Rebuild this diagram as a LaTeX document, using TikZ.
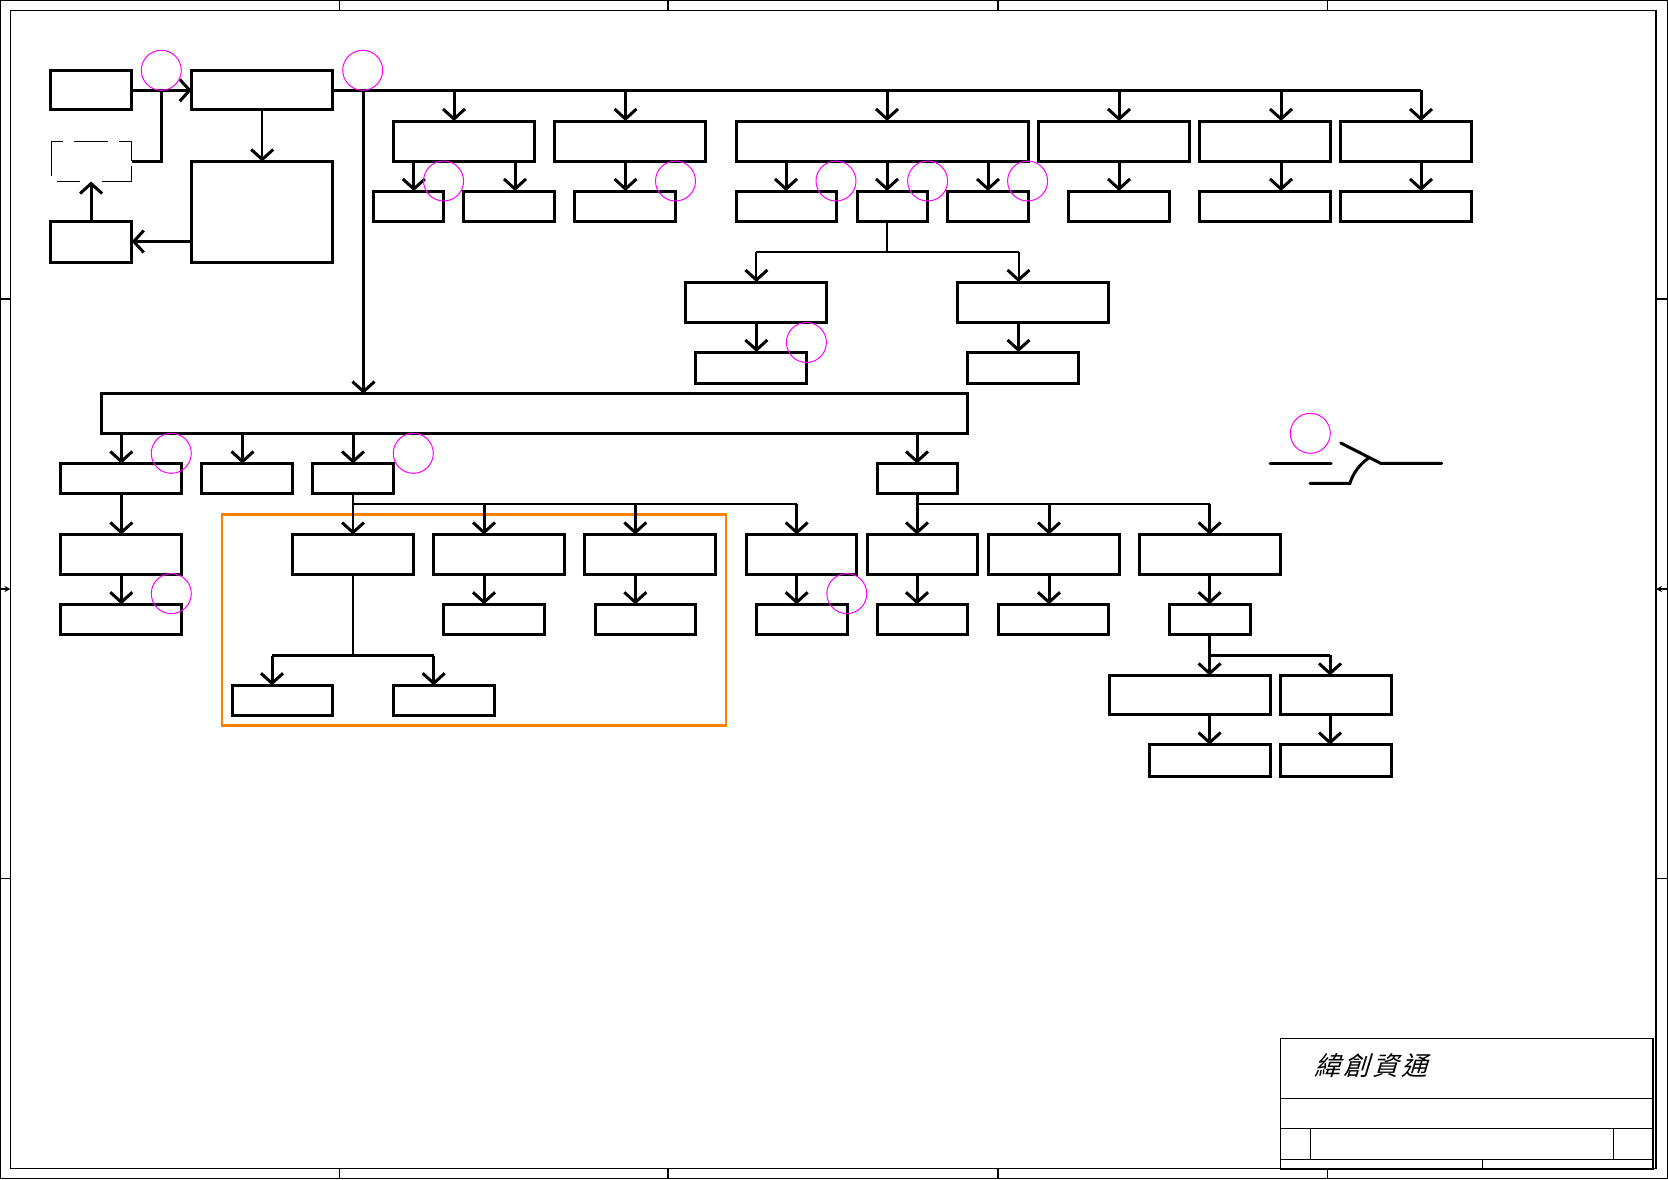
\documentclass[tikz,border=0pt]{standalone}
\usepackage{fontspec}
\newfontfamily\cjk[FakeSlant=0.3,LetterSpace=12]{Noto Sans CJK TC}
\usetikzlibrary{arrows.meta}
\definecolor{bubcol}{RGB}{255,0,255}
\definecolor{boxorange}{RGB}{255,128,0}
\tikzset{
  blk/.style 2 args={draw,line width=3pt,inner sep=0pt,outer sep=0pt,minimum width=#1pt,minimum height=#2pt},
  ghost/.style 2 args={inner sep=0pt,outer sep=0pt,minimum width=#1pt,minimum height=#2pt},
  bub/.style={draw=bubcol,circle,line width=1pt,inner sep=0pt,minimum size=40pt},
  wire/.style={line width=3pt},
  thn/.style={line width=2pt},
  frm/.style={line width=1.3pt},
}
\begin{document}
\begin{tikzpicture}[x=1pt,y=-1pt,>={Straight Barb[length=10pt,width=22pt,line width=3pt]}]
  \useasboundingbox (0,0) rectangle (1668,1179);
  % sheet frame
  \draw[frm] (0.6,0.6) rectangle (1667.4,1178.4);
  \draw[frm] (10.5,10.5) rectangle (1656,1168.5);
  \draw[frm] (339.7,0) -- (339.7,10.5);
  \draw[frm] (668,0) -- (668,10.5);
  \draw[frm] (998,0) -- (998,10.5);
  \draw[frm] (1327.7,0) -- (1327.7,10.5);
  \draw[frm] (339.7,1168.5) -- (339.7,1179);
  \draw[frm] (668,1168.5) -- (668,1179);
  \draw[frm] (998,1168.5) -- (998,1179);
  \draw[frm] (1327.7,1168.5) -- (1327.7,1179);
  \draw[frm] (0,299) -- (10.5,299);
  \draw[frm] (0,878.5) -- (10.5,878.5);
  \draw[frm] (1656,299) -- (1668,299);
  \draw[frm] (1656,878.5) -- (1668,878.5);
  \draw[frm,-{Stealth[length=6pt,width=6pt]}] (0,589) -- (10.5,589);
  \draw[frm,-{Stealth[length=6pt,width=6pt]}] (1668,589) -- (1656,589);
  % title block
  \draw[frm,fill=white] (1280.3,1038.7) rectangle (1653,1169);
  \draw[frm] (1280.3,1098.7) -- (1653,1098.7);
  \draw[frm] (1280.3,1128.3) -- (1653,1128.3);
  \draw[frm] (1280.3,1159.3) -- (1653,1159.3);
  \draw[frm] (1310.7,1128.3) -- (1310.7,1159.3);
  \draw[frm] (1613.3,1128.3) -- (1613.3,1159.3);
  \draw[frm] (1482.3,1159.3) -- (1482.3,1169);
  \draw[line width=2pt] (1280.3,1169) -- (1653,1169);
  \node[anchor=west,inner sep=0pt] (wistron) at (1314,1066) {\cjk\fontsize{26pt}{26pt}\selectfont 緯創資通};
  % top left group
  \node[blk={81.2}{39.3}] (psu) at (91.1,90.3) {};
  \node[blk={141}{39.3}] (chg) at (262.2,90.3) {};
  \node[ghost={80}{40}] (adp) at (91.5,161.5) {};
  \node[blk={81.2}{41}] (bat) at (91.1,241.5) {};
  \node[blk={141}{100.5}] (pack) at (262.2,211.75) {};
  % first rows
  \node[blk={140.4}{40.5}] (ra) at (463.8,141.25) {};
  \node[blk={151}{40.5}] (rb) at (629.5,141.25) {};
  \node[blk={292}{40.5}] (rc) at (882,141.25) {};
  \node[blk={151}{40.5}] (rd) at (1113.5,141.25) {};
  \node[blk={131}{40.5}] (re) at (1264.8,141.25) {};
  \node[blk={131}{40.5}] (rf) at (1405.5,141.25) {};
  \node[blk={70}{30}] (sa) at (408.5,206) {};
  \node[blk={91}{30}] (sb) at (508.5,206) {};
  \node[blk={101}{30}] (sc) at (625,206) {};
  \node[blk={100}{30}] (sd) at (786,206) {};
  \node[blk={70}{30}] (se) at (892.5,206) {};
  \node[blk={81}{30}] (sf) at (987.5,206) {};
  \node[blk={101}{30}] (sg) at (1118.5,206) {};
  \node[blk={131}{30}] (sh) at (1264.5,206) {};
  \node[blk={131}{30}] (si) at (1405.5,206) {};
  \node[blk={141.6}{40.4}] (ta) at (755.8,302.2) {};
  \node[blk={151}{40.4}] (tb) at (1033,302.2) {};
  \node[blk={110.7}{31}] (ua) at (751,367.5) {};
  \node[blk={110.7}{31}] (ub) at (1023.3,367.5) {};
  % long bar and what hangs below
  \node[blk={866}{39.4}] (bar) at (534,413.3) {};
  \node[blk={120.4}{30}] (fa) at (120.8,478.5) {};
  \node[blk={90.5}{30}] (fb) at (247.2,478.5) {};
  \node[blk={81}{30}] (fc) at (352.5,478.5) {};
  \node[blk={80}{30}] (fd) at (917.5,478.5) {};
  \node[blk={120.4}{40}] (ga) at (120.8,554.5) {};
  \node[blk={121.5}{40}] (gb) at (353.2,554.5) {};
  \node[blk={131.4}{40}] (gc) at (499,554.5) {};
  \node[blk={131.7}{40}] (gd) at (650,554.5) {};
  \node[blk={110}{40}] (ge) at (801.3,554.5) {};
  \node[blk={110.6}{40}] (gf) at (922.3,554.5) {};
  \node[blk={131}{40}] (gg) at (1053.5,554.5) {};
  \node[blk={141}{40}] (gh) at (1209.5,554.5) {};
  \node[blk={120.4}{30.4}] (ha) at (120.8,619.5) {};
  \node[blk={100.7}{30.4}] (hc) at (493.7,619.5) {};
  \node[blk={100.4}{30.4}] (hd) at (645.5,619.5) {};
  \node[blk={91.4}{30.4}] (he) at (802,619.5) {};
  \node[blk={89.4}{30.4}] (hf) at (922.3,619.5) {};
  \node[blk={109.5}{30.4}] (hg) at (1053.7,619.5) {};
  \node[blk={81}{30.4}] (hh) at (1209.5,619.5) {};
  \node[blk={100}{30.4}] (ja) at (282,700.5) {};
  \node[blk={101.4}{30.4}] (jb) at (444,700.5) {};
  \node[blk={161}{39.5}] (ia) at (1189.8,695.2) {};
  \node[blk={111.5}{39.5}] (ib) at (1335.8,695.2) {};
  \node[blk={121}{32}] (ka) at (1209.5,760.6) {};
  \node[blk={111.5}{32}] (kb) at (1335.8,760.6) {};
  % highlighted group
  \draw[boxorange,line width=2.8pt] (222,514.7) rectangle (726,725.3);
  % adapter outline, broken
  \draw[line width=1pt] (51.5,175.5) -- (51.5,141.5) -- (63,141.5);
  \draw[line width=1pt] (74,141.5) -- (108,141.5);
  \draw[line width=1pt] (119,141.5) -- (131.5,141.5) -- (131.5,161);
  \draw[line width=1pt] (131.5,166) -- (131.5,181.5) -- (102,181.5);
  \draw[line width=1pt] (80,181.5) -- (56.7,181.5);
  % top left connectors
  \coordinate (jpsu) at (161.3,90.3);
  \draw[wire,->] (psu.east) -- (chg.west);
  \draw[wire] (adp.east) -| (jpsu);
  \draw[thn,->] (chg.south) -- (pack.north);
  \draw[wire,->] (pack.west |- bat.east) -- (bat.east);
  \draw[wire,->] (bat.north) -- (adp.south -| bat.north);
  % main rail
  \coordinate (tra) at (454,90.3);
  \coordinate (trb) at (625.5,90.3);
  \coordinate (trc) at (887,90.3);
  \coordinate (trd) at (1119,90.3);
  \coordinate (tre) at (1281,90.3);
  \coordinate (trf) at (1421,90.3);
  \coordinate (trm) at (363.5,90.3);
  \draw[wire] (chg.east) -- (trf);
  \draw[wire,->] (trm) -- (trm |- bar.north);
  \draw[wire,->] (tra) -- (tra |- ra.north);
  \draw[wire,->] (trb) -- (trb |- rb.north);
  \draw[wire,->] (trc) -- (trc |- rc.north);
  \draw[wire,->] (trd) -- (trd |- rd.north);
  \draw[wire,->] (tre) -- (tre |- re.north);
  \draw[wire,->] (trf) -- (trf |- rf.north);
  \draw[wire,->] (413.8,0 |- ra.south) -- (413.8,0 |- sa.north);
  \draw[wire,->] (515,0 |- ra.south) -- (515,0 |- sb.north);
  \draw[wire,->] (trb |- rb.south) -- (trb |- sc.north);
  \draw[wire,->] (786,0 |- rc.south) -- (786,0 |- sd.north);
  \draw[wire,->] (trc |- rc.south) -- (trc |- se.north);
  \draw[wire,->] (988,0 |- rc.south) -- (988,0 |- sf.north);
  \draw[wire,->] (trd |- rd.south) -- (trd |- sg.north);
  \draw[wire,->] (tre |- re.south) -- (tre |- sh.north);
  \draw[wire,->] (trf |- rf.south) -- (trf |- si.north);
  % branch under the middle box
  \coordinate (jse) at (887,252);
  \coordinate (xta) at (756.4,252);
  \coordinate (xtb) at (1018.5,252);
  \draw[thn] (jse |- se.south) -- (jse);
  \draw[thn,->] (xta) -- (xta |- ta.north);
  \draw[thn,->] (xtb) -- (xtb |- tb.north);
  \draw[thn] (xta) -- (xtb);
  \draw[wire,->] (xta |- ta.south) -- (xta |- ua.north);
  \draw[wire,->] (xtb |- tb.south) -- (xtb |- ub.north);
  % below the long bar
  \draw[wire,->] (121.3,0 |- bar.south) -- (121.3,0 |- fa.north);
  \draw[wire,->] (242.5,0 |- bar.south) -- (242.5,0 |- fb.north);
  \draw[wire,->] (353,0 |- bar.south) -- (353,0 |- fc.north);
  \draw[wire,->] (917,0 |- bar.south) -- (917,0 |- fd.north);
  \draw[wire,->] (121.3,0 |- fa.south) -- (121.3,0 |- ga.north);
  \draw[wire,->] (121.3,0 |- ga.south) -- (121.3,0 |- ha.north);
  % under fc
  \coordinate (jfc) at (353,503.7);
  \coordinate (xgc) at (484,503.7);
  \coordinate (xgd) at (635.3,503.7);
  \coordinate (xge) at (796.7,503.7);
  \draw[thn] (jfc) -- (xge);
  \draw[thn,->] (jfc |- fc.south) -- (jfc |- gb.north);
  \draw[wire,->] (xgc) -- (xgc |- gc.north);
  \draw[wire,->] (xgd) -- (xgd |- gd.north);
  \draw[wire,->] (xge) -- (xge |- ge.north);
  \draw[wire,->] (xgc |- gc.south) -- (xgc |- hc.north);
  \draw[wire,->] (xgd |- gd.south) -- (xgd |- hd.north);
  \draw[wire,->] (xge |- ge.south) -- (xge |- he.north);
  % under gb
  \coordinate (jgb) at (353,655.7);
  \coordinate (xja) at (272,655.7);
  \coordinate (xjb) at (433.7,655.7);
  \draw[thn] (jgb |- gb.south) -- (jgb);
  \draw[wire] (xja) -- (xjb);
  \draw[wire,->] (xja) -- (xja |- ja.north);
  \draw[wire,->] (xjb) -- (xjb |- jb.north);
  % under fd
  \coordinate (jfd) at (917,503.7);
  \coordinate (xgg) at (1049,503.7);
  \coordinate (xgh) at (1209.6,503.7);
  \draw[thn] (jfd) -- (xgh);
  \draw[wire,->] (jfd |- fd.south) -- (jfd |- gf.north);
  \draw[wire,->] (xgg) -- (xgg |- gg.north);
  \draw[wire,->] (xgh) -- (xgh |- gh.north);
  \draw[wire,->] (jfd |- gf.south) -- (jfd |- hf.north);
  \draw[wire,->] (xgg |- gg.south) -- (xgg |- hg.north);
  \draw[wire,->] (xgh |- gh.south) -- (xgh |- hh.north);
  % under hh
  \coordinate (jhh) at (1209.6,655.3);
  \coordinate (xib) at (1330,655.3);
  \draw[wire] (jhh) -- (xib);
  \draw[wire,->] (jhh |- hh.south) -- (jhh |- ia.north);
  \draw[wire,->] (xib) -- (xib |- ib.north);
  \draw[wire,->] (jhh |- ia.south) -- (jhh |- ka.north);
  \draw[wire,->] (xib |- ib.south) -- (xib |- kb.north);
  % switch
  \draw[wire,line cap=round] (1270,463.3) -- (1331,463.3);
  \draw[wire,line cap=round] (1340.7,443) -- (1380.7,463.3) -- (1441.7,463.3);
  \draw[wire,line cap=round] (1310,483.3) -- (1350,483.3) .. controls (1353,473) and (1360,464) .. (1368.3,458.3);
  % bubbles
  \node[bub] (ba) at (161.3,70.3) {};
  \node[bub] (bb) at (362.7,70.3) {};
  \node[bub] (bc) at (443.6,181) {};
  \node[bub] (bd) at (675.5,181) {};
  \node[bub] (be) at (836,181) {};
  \node[bub] (bf) at (927.6,181) {};
  \node[bub] (bg) at (1027.6,181) {};
  \node[bub] (bh) at (806.4,342.5) {};
  \node[bub] (bi) at (171.3,453.3) {};
  \node[bub] (bj) at (413.3,453.3) {};
  \node[bub] (bk) at (171.3,593.6) {};
  \node[bub] (bl) at (846.8,593.6) {};
  \node[bub] (bm) at (1310.3,433.3) {};
\end{tikzpicture}
\end{document}
